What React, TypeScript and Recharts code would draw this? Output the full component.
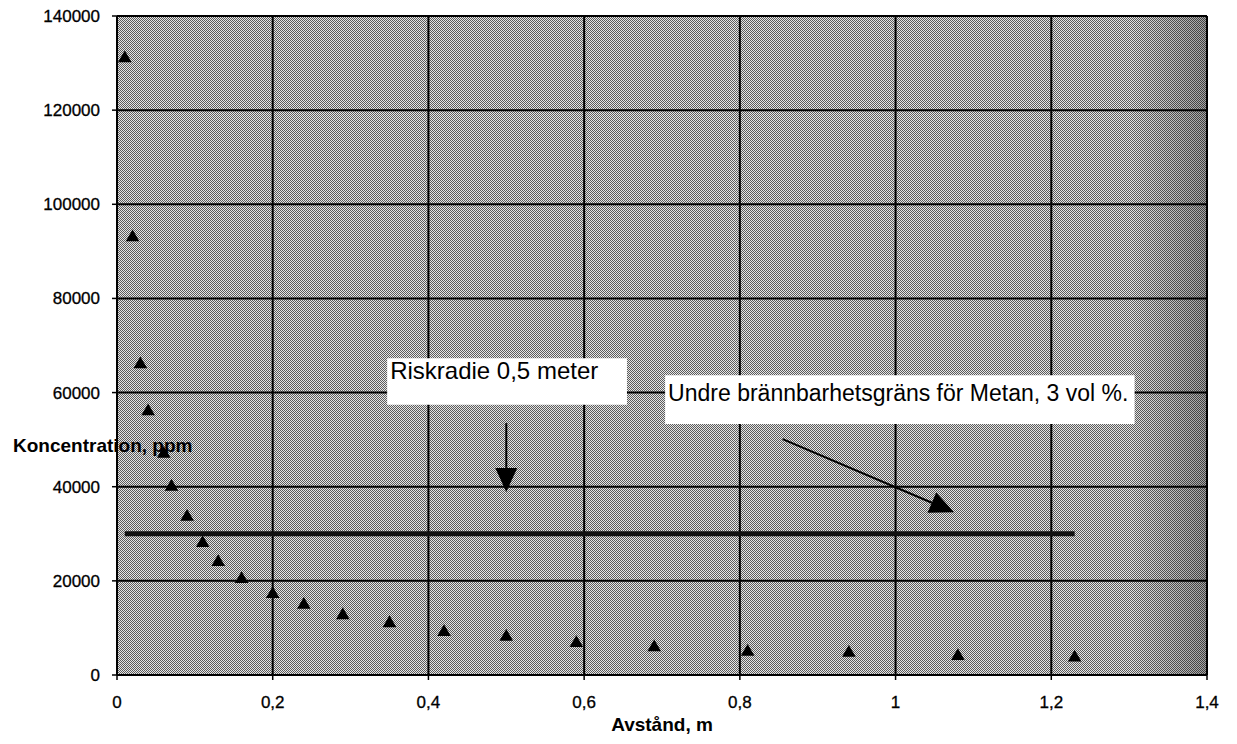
import {
  CartesianGrid,
  ReferenceArea,
  ReferenceLine,
  Scatter,
  ScatterChart,
  Symbols,
  XAxis,
  YAxis,
} from "recharts";

// measured points: distance (m) and methane concentration (ppm)
const distance = [
  0.01, 0.02, 0.03, 0.04, 0.06, 0.07, 0.09, 0.11, 0.13, 0.16, 0.2, 0.24, 0.29,
  0.35, 0.42, 0.5, 0.59, 0.69, 0.81, 0.94, 1.08, 1.23,
];
const concentration = [
  131000, 93000, 66000, 56000, 47000, 40000, 33600, 28000, 24000, 20400, 17200,
  14900, 12700, 11000, 9100, 8100, 6800, 5900, 4900, 4700, 4000, 3700,
];

// lower flammability limit for methane, 3 vol % = 30000 ppm
const limitDistance = [0.01, 1.23];
const limitPpm = 30000;

const xTicks = [0, 0.2, 0.4, 0.6, 0.8, 1, 1.2, 1.4];
const yTicks = [0, 20000, 40000, 60000, 80000, 100000, 120000, 140000];

const points = distance.map((x, i) => ({ x, y: concentration[i] }));
const limitLine = limitDistance.map((x) => ({ x, y: limitPpm }));

const FONT = "Arial, 'Liberation Sans', Helvetica, sans-serif";

const fmt = (v: number) => String(v).replace(".", ",");

const tickStyle = {
  fill: "#000",
  fontSize: 17,
  fontFamily: FONT,
  stroke: "#000",
  strokeWidth: 0.3,
};

const Triangle = (props: any) => (
  <Symbols cx={props.cx} cy={props.cy} type="triangle" size={80} fill="#000" />
);

const Arrow = (props: any) => {
  const { x1, y1, x2, y2 } = props;
  const len = Math.hypot(x2 - x1, y2 - y1);
  const ux = (x2 - x1) / len;
  const uy = (y2 - y1) / len;
  const head = 24;
  const half = 11;
  const bx = x2 - ux * head;
  const by = y2 - uy * head;
  return (
    <g>
      <line x1={x1} y1={y1} x2={bx} y2={by} stroke="#000" strokeWidth={2} />
      <polygon
        points={`${x2},${y2} ${bx - uy * half},${by + ux * half} ${bx + uy * half},${by - ux * half}`}
        fill="#000"
      />
    </g>
  );
};

const boxLabel = (dy: number, size: number) => (props: any) => {
  const { viewBox, value } = props;
  return (
    <text
      x={viewBox.x + 3}
      y={viewBox.y + dy}
      fontSize={size}
      fontFamily={FONT}
      fill="#000"
    >
      {value}
    </text>
  );
};

const App = () => {
  return (
    <div
      style={{
        position: "absolute",
        left: 0,
        top: 0,
        width: 1237,
        height: 744,
        background: "#fff",
      }}
    >
      <ScatterChart
        width={1237}
        height={744}
        margin={{ top: 16, right: 30, left: 17, bottom: 0 }}
      >
        <defs>
          <pattern
            id="dither"
            width="2"
            height="2"
            patternUnits="userSpaceOnUse"
          >
            <rect width="2" height="2" fill="#e6e6e6" />
            <rect width="1" height="1" fill="#5c5c5c" />
            <rect x="1" y="1" width="1" height="1" fill="#5c5c5c" />
          </pattern>
          <linearGradient id="edge" x1="0" y1="0" x2="1" y2="0">
            <stop offset="0%" stopColor="#000" stopOpacity={0} />
            <stop offset="100%" stopColor="#000" stopOpacity={0.3} />
          </linearGradient>
        </defs>
        <CartesianGrid
          stroke="#000"
          strokeWidth={2}
          fill="url(#dither)"
          fillOpacity={1}
        />
        <ReferenceArea
          x1={1.3}
          x2={1.4}
          y1={0}
          y2={140000}
          fill="url(#edge)"
          fillOpacity={1}
          stroke="none"
        />
        <XAxis
          type="number"
          dataKey="x"
          domain={[0, 1.4]}
          ticks={xTicks}
          tickFormatter={fmt}
          tickSize={5}
          tickMargin={16}
          height={69}
          axisLine={{ stroke: "#000", strokeWidth: 2 }}
          tickLine={{ stroke: "#000", strokeWidth: 1.5 }}
          tick={tickStyle}
          label={{
            value: "Avstånd, m",
            position: "insideBottom",
            offset: 13,
            fill: "#000",
            fontSize: 19,
            fontWeight: "bold",
            fontFamily: FONT,
          }}
        />
        <YAxis
          type="number"
          dataKey="y"
          domain={[0, 140000]}
          ticks={yTicks}
          tickSize={5}
          tickMargin={12}
          width={100}
          axisLine={{ stroke: "#000", strokeWidth: 2 }}
          tickLine={{ stroke: "#000", strokeWidth: 1.5 }}
          tick={tickStyle}
          label={(props: any) => (
            <text
              x={props.viewBox.x - 4}
              y={props.viewBox.y + props.viewBox.height * 0.662}
              fontSize={19}
              fontWeight="bold"
              fontFamily={FONT}
              fill="#000"
            >
              Koncentration, ppm
            </text>
          )}
        />
        <ReferenceArea
          x1={0.347}
          x2={0.655}
          y1={57400}
          y2={67300}
          fill="#fff"
          fillOpacity={1}
          stroke="none"
          label={{ value: "Riskradie 0,5 meter", content: boxLabel(21, 24) }}
        />
        <ReferenceArea
          x1={0.704}
          x2={1.307}
          y1={53300}
          y2={63700}
          fill="#fff"
          fillOpacity={1}
          stroke="none"
          label={{
            value: "Undre brännbarhetsgräns för Metan, 3 vol %.",
            content: boxLabel(26, 23),
          }}
        />
        <ReferenceLine
          segment={[
            { x: 0.5, y: 53500 },
            { x: 0.5, y: 38900 },
          ]}
          shape={Arrow}
        />
        <ReferenceLine
          segment={[
            { x: 0.855, y: 50100 },
            { x: 1.075, y: 34600 },
          ]}
          shape={Arrow}
        />
        <Scatter
          data={limitLine}
          line={{ stroke: "#111", strokeWidth: 5 }}
          shape={() => <g />}
          legendType="none"
          isAnimationActive={false}
        />
        <Scatter
          data={points}
          fill="#000"
          shape={Triangle}
          isAnimationActive={false}
        />
      </ScatterChart>
    </div>
  );
};

export default App;
